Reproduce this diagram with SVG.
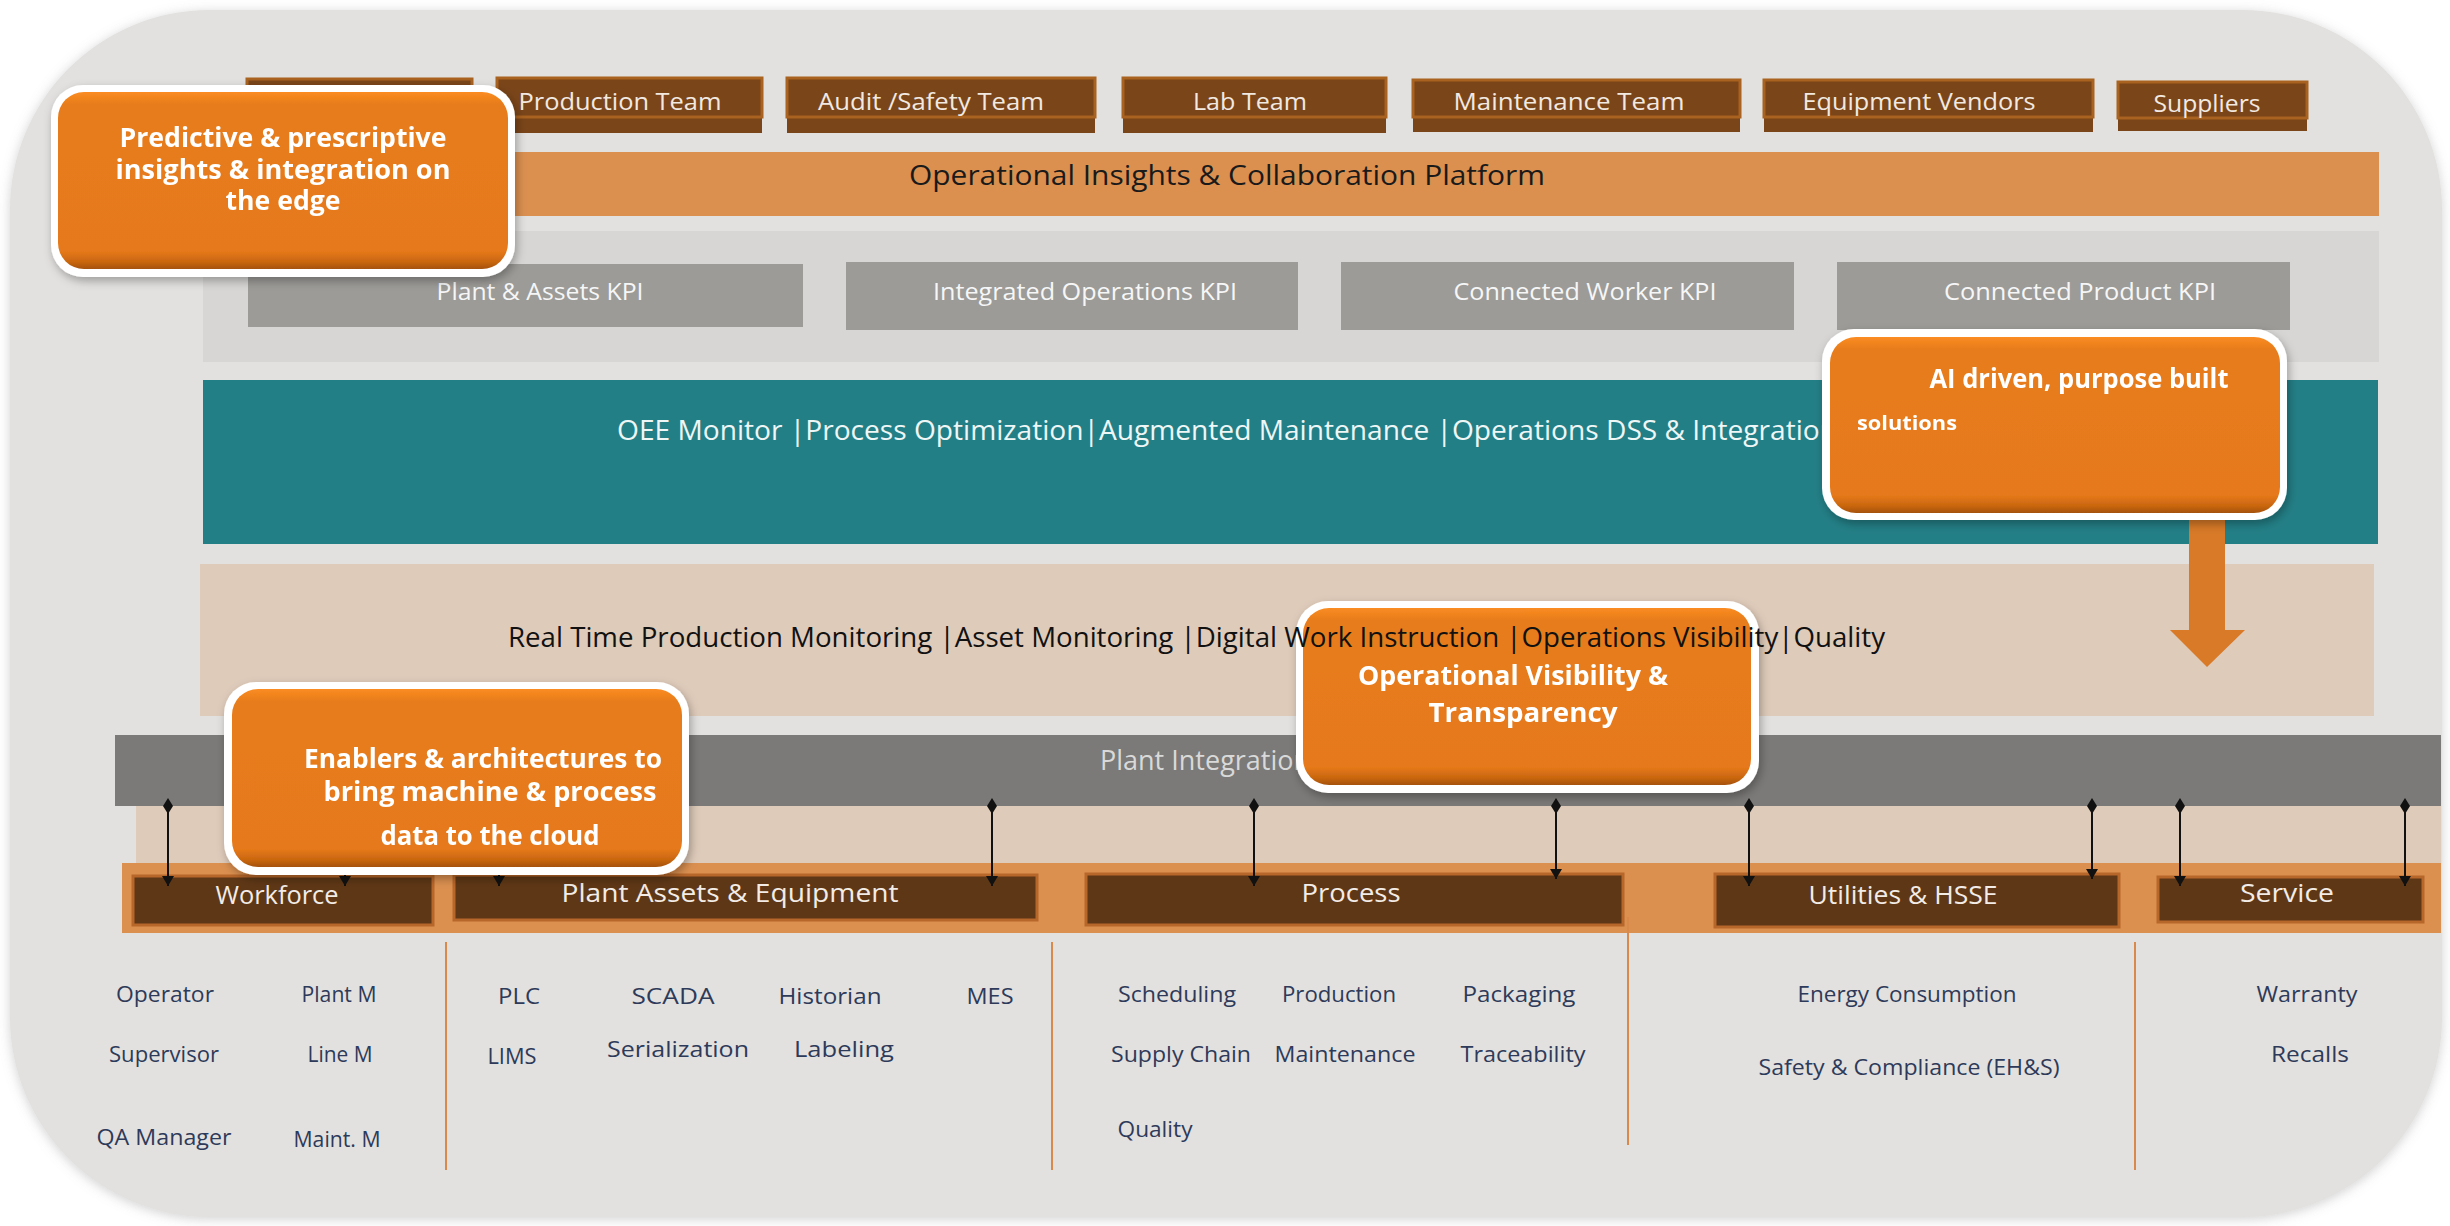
<svg xmlns="http://www.w3.org/2000/svg" width="2450" height="1226" viewBox="0 0 2450 1226">
<defs>
<filter id="outerShadow" x="-5%" y="-5%" width="110%" height="110%">
<feDropShadow dx="0" dy="2" stdDeviation="6" flood-color="#9a9a9a" flood-opacity="0.45"/>
</filter>
<filter id="calloutShadow" x="-10%" y="-10%" width="125%" height="130%">
<feDropShadow dx="2" dy="4" stdDeviation="5" flood-color="#000" flood-opacity="0.3"/>
</filter>
<linearGradient id="calloutFill" x1="0" y1="0" x2="0" y2="1">
<stop offset="0" stop-color="#fb8c22"/>
<stop offset="0.07" stop-color="#e77c1b"/>
<stop offset="0.9" stop-color="#e5791a"/>
<stop offset="0.96" stop-color="#c9660f"/>
<stop offset="1" stop-color="#a5520c"/>
</linearGradient>
<marker id="diamond" viewBox="0 0 16 10" refX="8" refY="5" markerWidth="16" markerHeight="10" markerUnits="userSpaceOnUse" orient="auto">
<path d="M0,5 L8,0 L16,5 L8,10 Z" fill="#111"/>
</marker>
<marker id="arrow" viewBox="0 0 10 12" refX="10" refY="6" markerWidth="10" markerHeight="12" markerUnits="userSpaceOnUse" orient="auto">
<path d="M0,0 L10,6 L0,12 Z" fill="#111"/>
</marker>
<style>
text { font-family: "Open Sans", "Noto Sans", "Liberation Sans", sans-serif; }
.team-body { fill: #7a4519; }
.team-top { fill: none; stroke: #a9621f; stroke-width: 3; }
.team-txt { fill: #f2e9e1; font-size: 24px; text-anchor: middle; }
.kpi-box { fill: #9c9b98; }
.kpi-txt { fill: #f6f6f6; font-size: 24px; text-anchor: middle; }
.bar-txt { font-size: 27px; }
.cat-box { fill: #5e3716; stroke: #b7672a; stroke-width: 3; }
.cat-txt { fill: #f3ece6; font-size: 25px; text-anchor: middle; }
.item { fill: #2e3a59; font-size: 21px; text-anchor: middle; }
.divider { stroke: #d98a4a; stroke-width: 2; }
.conn { stroke: #111; stroke-width: 2; fill: none; marker-start: url(#diamond); marker-end: url(#arrow); }
.c-outer { fill: #ffffff; }
.c-inner { fill: url(#calloutFill); }
.c-txt { fill: #ffffff; font-size: 26px; font-weight: 700; text-anchor: middle; }
.c-left { text-anchor: start; }
</style>
</defs>

<rect x="0" y="0" width="2450" height="1226" fill="#ffffff"/>
<rect id="frame" x="10" y="10" width="2432" height="1207" rx="200" ry="200" fill="#e2e1df" filter="url(#outerShadow)"/>

<!-- Team boxes -->
<g id="team-hidden">
<rect class="team-body" x="247" y="79" width="225" height="54"/>
<rect class="team-top" x="247" y="79" width="225" height="38"/>
</g>
<g id="team-production">
<rect class="team-body" x="497" y="78" width="265" height="55"/>
<rect class="team-top" x="497" y="78" width="265" height="39"/>
<text class="team-txt" x="620" y="110" textLength="203" lengthAdjust="spacingAndGlyphs">Production Team</text>
</g>
<g id="team-audit">
<rect class="team-body" x="787" y="78" width="308" height="55"/>
<rect class="team-top" x="787" y="78" width="308" height="39"/>
<text class="team-txt" x="931" y="110" textLength="226" lengthAdjust="spacingAndGlyphs">Audit /Safety Team</text>
</g>
<g id="team-lab">
<rect class="team-body" x="1123" y="78" width="263" height="55"/>
<rect class="team-top" x="1123" y="78" width="263" height="39"/>
<text class="team-txt" x="1250" y="110" textLength="114" lengthAdjust="spacingAndGlyphs">Lab Team</text>
</g>
<g id="team-maintenance">
<rect class="team-body" x="1413" y="80" width="327" height="52"/>
<rect class="team-top" x="1413" y="80" width="327" height="37"/>
<text class="team-txt" x="1569" y="110" textLength="231" lengthAdjust="spacingAndGlyphs">Maintenance Team</text>
</g>
<g id="team-vendors">
<rect class="team-body" x="1764" y="80" width="329" height="52"/>
<rect class="team-top" x="1764" y="80" width="329" height="37"/>
<text class="team-txt" x="1919" y="110" textLength="233" lengthAdjust="spacingAndGlyphs">Equipment Vendors</text>
</g>
<g id="team-suppliers">
<rect class="team-body" x="2118" y="82" width="189" height="49"/>
<rect class="team-top" x="2118" y="82" width="189" height="36"/>
<text class="team-txt" x="2207" y="112" textLength="107" lengthAdjust="spacingAndGlyphs">Suppliers</text>
</g>

<!-- Platform bar -->
<g id="platform">
<rect x="203" y="152" width="2176" height="64" fill="#db9050"/>
<text class="bar-txt" x="1227" y="185" text-anchor="middle" fill="#1a1a1a" textLength="636" lengthAdjust="spacingAndGlyphs">Operational Insights  &amp; Collaboration  Platform</text>
</g>

<!-- KPI panel -->
<g id="kpi-panel">
<rect x="203" y="231" width="2176" height="131" fill="#d7d6d4"/>
</g>
<g id="kpi-plant">
<rect class="kpi-box" x="248" y="264" width="555" height="63"/>
<text class="kpi-txt" x="540" y="300" textLength="207" lengthAdjust="spacingAndGlyphs">Plant &amp; Assets  KPI</text>
</g>
<g id="kpi-integrated">
<rect class="kpi-box" x="846" y="262" width="452" height="68"/>
<text class="kpi-txt" x="1085" y="300" textLength="304" lengthAdjust="spacingAndGlyphs">Integrated Operations KPI</text>
</g>
<g id="kpi-worker">
<rect class="kpi-box" x="1341" y="262" width="453" height="68"/>
<text class="kpi-txt" x="1585" y="300" textLength="263" lengthAdjust="spacingAndGlyphs">Connected Worker KPI</text>
</g>
<g id="kpi-product">
<rect class="kpi-box" x="1837" y="262" width="453" height="68"/>
<text class="kpi-txt" x="2080" y="300" textLength="272" lengthAdjust="spacingAndGlyphs">Connected Product KPI</text>
</g>

<!-- Teal solutions bar -->
<g id="solutions">
<rect x="203" y="380" width="2175" height="164" fill="#237f86"/>
<text class="bar-txt" x="617" y="440" fill="#eef6f6" textLength="1220" lengthAdjust="spacingAndGlyphs">OEE Monitor |Process  Optimization|Augmented Maintenance |Operations  DSS &amp; Integration</text>
</g>

<!-- Beige visibility bar (its label is drawn above the callouts) -->
<g id="visibility">
<rect x="200" y="564" width="2174" height="152" fill="#dfcbba"/>
</g>

<!-- Plant integration bar -->
<g id="integration">
<rect x="115" y="735" width="2326" height="71" fill="#7b7a78"/>
<text class="bar-txt" x="1100" y="770" fill="#d9d9d9">Plant Integration</text>
<rect x="136" y="806" width="2305" height="57" fill="#dfcbba"/>
</g>

<!-- Category band -->
<g id="category-band">
<rect x="122" y="863" width="2319" height="70" fill="#db9050"/>
</g>
<g id="cat-workforce">
<rect class="cat-box" x="133" y="876" width="300" height="49"/>
<text class="cat-txt" x="277" y="904" textLength="123" lengthAdjust="spacingAndGlyphs">Workforce</text>
</g>
<g id="cat-assets">
<rect class="cat-box" x="454" y="875" width="583" height="45"/>
<text class="cat-txt" x="730" y="902" textLength="337" lengthAdjust="spacingAndGlyphs">Plant Assets  &amp; Equipment</text>
</g>
<g id="cat-process">
<rect class="cat-box" x="1086" y="874" width="537" height="51"/>
<text class="cat-txt" x="1351" y="902" textLength="99" lengthAdjust="spacingAndGlyphs">Process</text>
</g>
<g id="cat-utilities">
<rect class="cat-box" x="1715" y="874" width="404" height="53"/>
<text class="cat-txt" x="1903" y="904" textLength="189" lengthAdjust="spacingAndGlyphs">Utilities &amp; HSSE</text>
</g>
<g id="cat-service">
<rect class="cat-box" x="2158" y="877" width="265" height="45"/>
<text class="cat-txt" x="2287" y="902" textLength="94" lengthAdjust="spacingAndGlyphs">Service</text>
</g>

<!-- Connectors -->
<g id="connectors">
<line class="conn" x1="168" y1="806" x2="168" y2="886"/>
<line class="conn" x1="345" y1="806" x2="345" y2="886"/>
<line class="conn" x1="499" y1="806" x2="499" y2="886"/>
<line class="conn" x1="992" y1="806" x2="992" y2="886"/>
<line class="conn" x1="1254" y1="806" x2="1254" y2="886"/>
<line class="conn" x1="1556" y1="806" x2="1556" y2="879"/>
<line class="conn" x1="1749" y1="806" x2="1749" y2="886"/>
<line class="conn" x1="2092" y1="806" x2="2092" y2="879"/>
<line class="conn" x1="2180" y1="806" x2="2180" y2="886"/>
<line class="conn" x1="2405" y1="806" x2="2405" y2="886"/>
</g>

<!-- Column dividers -->
<g id="dividers">
<line class="divider" x1="446" y1="942" x2="446" y2="1170"/>
<line class="divider" x1="1052" y1="942" x2="1052" y2="1170"/>
<line class="divider" x1="1628" y1="917" x2="1628" y2="1145"/>
<line class="divider" x1="2135" y1="942" x2="2135" y2="1170"/>
</g>

<!-- Item lists -->
<g id="items-workforce">
<text class="item" x="165" y="1002" textLength="98" lengthAdjust="spacingAndGlyphs">Operator</text>
<text class="item" x="339" y="1002" textLength="75" lengthAdjust="spacingAndGlyphs">Plant M</text>
<text class="item" x="164" y="1062" textLength="110" lengthAdjust="spacingAndGlyphs">Supervisor</text>
<text class="item" x="340" y="1062" textLength="65" lengthAdjust="spacingAndGlyphs">Line M</text>
<text class="item" x="164" y="1145" textLength="135" lengthAdjust="spacingAndGlyphs">QA Manager</text>
<text class="item" x="337" y="1147" textLength="87" lengthAdjust="spacingAndGlyphs">Maint. M</text>
</g>
<g id="items-assets">
<text class="item" x="519" y="1004" font-size="23" textLength="42" lengthAdjust="spacingAndGlyphs">PLC</text>
<text class="item" x="673" y="1004" font-size="23" textLength="83" lengthAdjust="spacingAndGlyphs">SCADA</text>
<text class="item" x="830" y="1004" font-size="23" textLength="103" lengthAdjust="spacingAndGlyphs">Historian</text>
<text class="item" x="990" y="1004" font-size="23" textLength="47" lengthAdjust="spacingAndGlyphs">MES</text>
<text class="item" x="512" y="1064" font-size="23" textLength="49" lengthAdjust="spacingAndGlyphs">LIMS</text>
<text class="item" x="678" y="1057" font-size="23" textLength="142" lengthAdjust="spacingAndGlyphs">Serialization</text>
<text class="item" x="844" y="1057" font-size="23" textLength="100" lengthAdjust="spacingAndGlyphs">Labeling</text>
</g>
<g id="items-process">
<text class="item" x="1177" y="1002" textLength="118" lengthAdjust="spacingAndGlyphs">Scheduling</text>
<text class="item" x="1339" y="1002" textLength="114" lengthAdjust="spacingAndGlyphs">Production</text>
<text class="item" x="1519" y="1002" textLength="113" lengthAdjust="spacingAndGlyphs">Packaging</text>
<text class="item" x="1181" y="1062" textLength="140" lengthAdjust="spacingAndGlyphs">Supply Chain</text>
<text class="item" x="1345" y="1062" textLength="141" lengthAdjust="spacingAndGlyphs">Maintenance</text>
<text class="item" x="1523" y="1062" textLength="125" lengthAdjust="spacingAndGlyphs">Traceability</text>
<text class="item" x="1155" y="1137" textLength="75" lengthAdjust="spacingAndGlyphs">Quality</text>
</g>
<g id="items-utilities">
<text class="item" x="1907" y="1002" textLength="219" lengthAdjust="spacingAndGlyphs">Energy Consumption</text>
<text class="item" x="1909" y="1075" textLength="301" lengthAdjust="spacingAndGlyphs">Safety &amp; Compliance (EH&amp;S)</text>
</g>
<g id="items-service">
<text class="item" x="2307" y="1002" textLength="101" lengthAdjust="spacingAndGlyphs">Warranty</text>
<text class="item" x="2310" y="1062" textLength="78" lengthAdjust="spacingAndGlyphs">Recalls</text>
</g>

<!-- Orange down arrow -->
<g id="down-arrow">
<path d="M2189,515 L2225,515 L2225,630 L2245,630 L2207,667 L2170,630 L2189,630 Z" fill="#d87a28"/>
</g>

<!-- Callouts -->
<g id="callout-predictive" filter="url(#calloutShadow)">
<rect class="c-outer" x="51" y="85" width="464" height="192" rx="32"/>
<rect class="c-inner" x="58" y="92" width="450" height="177" rx="26"/>
<text class="c-txt" x="283" y="147" textLength="327" lengthAdjust="spacingAndGlyphs">Predictive &amp; prescriptive</text>
<text class="c-txt" x="283" y="179" textLength="335" lengthAdjust="spacingAndGlyphs">insights &amp; integration on</text>
<text class="c-txt" x="283" y="210" textLength="115" lengthAdjust="spacingAndGlyphs">the edge</text>
</g>
<g id="callout-ai" filter="url(#calloutShadow)">
<rect class="c-outer" x="1822" y="329" width="465" height="191" rx="32"/>
<rect class="c-inner" x="1830" y="337" width="450" height="176" rx="26"/>
<text class="c-txt" x="2079" y="388" font-size="25" textLength="299" lengthAdjust="spacingAndGlyphs">AI driven, purpose built</text>
<text class="c-txt c-left" x="1857" y="430" style="font-size:19px" textLength="100" lengthAdjust="spacingAndGlyphs">solutions</text>
</g>
<g id="callout-visibility" filter="url(#calloutShadow)">
<rect class="c-outer" x="1296" y="601" width="463" height="192" rx="32"/>
<rect class="c-inner" x="1303" y="608" width="448" height="177" rx="26"/>
<text class="c-txt" x="1513" y="685" textLength="310" lengthAdjust="spacingAndGlyphs">Operational Visibility &amp;</text>
<text class="c-txt" x="1523" y="722" textLength="189" lengthAdjust="spacingAndGlyphs">Transparency</text>
</g>
<g id="callout-enablers" filter="url(#calloutShadow)">
<rect class="c-outer" x="224" y="682" width="465" height="193" rx="32"/>
<rect class="c-inner" x="232" y="689" width="450" height="178" rx="26"/>
<text class="c-txt" x="483" y="768" textLength="358" lengthAdjust="spacingAndGlyphs">Enablers &amp; architectures to</text>
<text class="c-txt" x="490" y="801" textLength="333" lengthAdjust="spacingAndGlyphs">bring machine &amp; process</text>
<text class="c-txt" x="490" y="845" textLength="219" lengthAdjust="spacingAndGlyphs">data to the cloud</text>
</g>

<!-- Visibility bar label, printed over the callout as in the reference -->
<g id="visibility-label">
<text class="bar-txt" x="508" y="647" fill="#111" textLength="1377" lengthAdjust="spacingAndGlyphs">Real Time Production Monitoring  |Asset Monitoring  |Digital Work Instruction  |Operations Visibility|Quality</text>
</g>
</svg>
